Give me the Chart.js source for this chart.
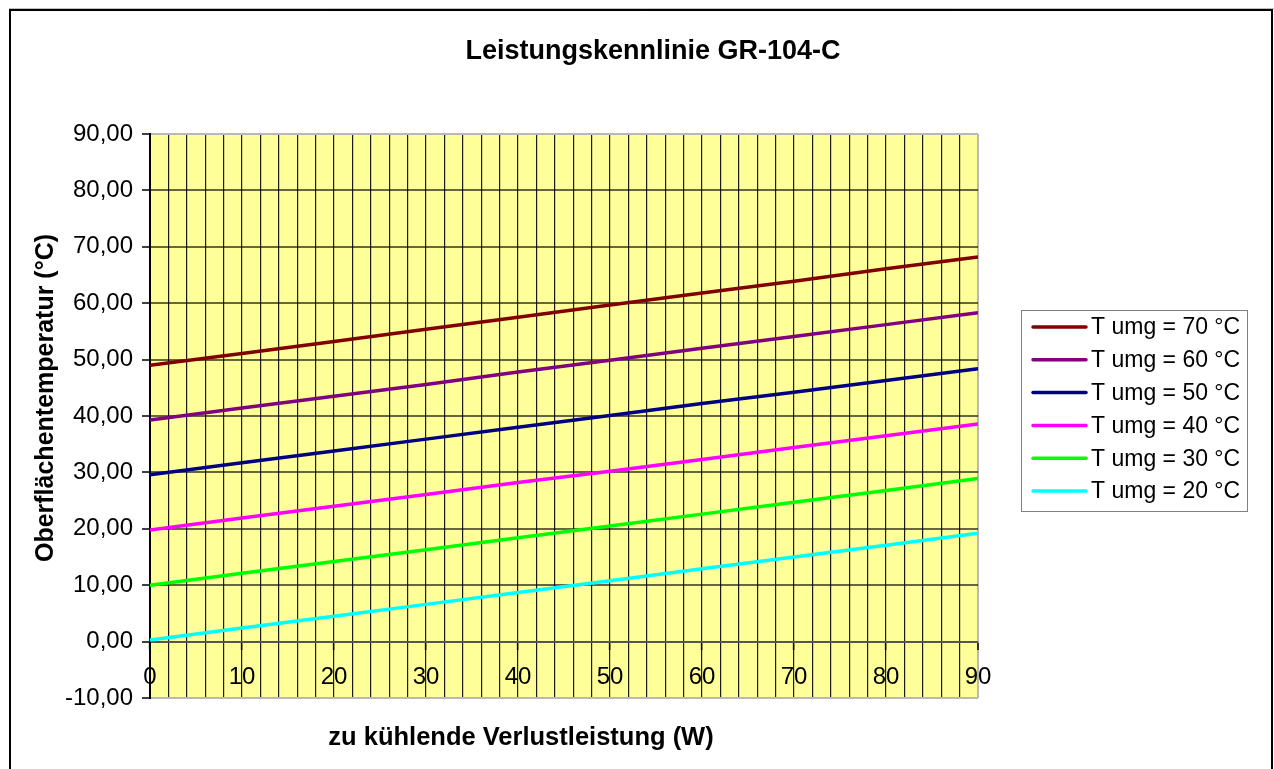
<!DOCTYPE html>
<html>
<head>
<meta charset="utf-8">
<script src="https://cdn.jsdelivr.net/npm/chart.js@4/dist/chart.umd.min.js"></script>
<style>
  html, body { margin: 0; padding: 0; background: #fff; }
  #c { display: block; }
</style>
</head>
<body>
<canvas id="c" width="1274" height="769"></canvas>
<script>
// ---- data ----
const chartTitle = 'Leistungskennlinie GR-104-C';
const xAxisTitle = 'zu kühlende Verlustleistung (W)';
const yAxisTitle = 'Oberflächentemperatur (°C)';
const xValues = [0, 10, 20, 30, 40, 50, 60, 70, 80, 90];
const seriesLabels = ['T umg = 70 °C', 'T umg = 60 °C', 'T umg = 50 °C', 'T umg = 40 °C', 'T umg = 30 °C', 'T umg = 20 °C'];
const t70 = [49.0, 51.1, 53.2, 55.4, 57.5, 59.7, 61.8, 63.9, 66.1, 68.2];
const t60 = [39.3, 41.4, 43.5, 45.6, 47.8, 49.9, 52.0, 54.1, 56.2, 58.3];
const t50 = [29.6, 31.7, 33.8, 35.9, 38.0, 40.1, 42.2, 44.2, 46.3, 48.4];
const t40 = [19.8, 21.9, 24.0, 26.1, 28.2, 30.2, 32.3, 34.4, 36.5, 38.6];
const t30 = [10.0, 12.1, 14.2, 16.3, 18.4, 20.5, 22.6, 24.7, 26.8, 28.9];
const t20 = [0.3, 2.4, 4.5, 6.6, 8.7, 10.8, 12.9, 15.0, 17.1, 19.2];
const seriesColors = ['#800000', '#800080', '#000080', '#FF00FF', '#00FF00', '#00FFFF'];
const yMin = -10, yMax = 90, yStep = 10;
const xMin = 0, xMax = 90, xGridStep = 2, xLabelStep = 10;

const allSeries = [t70, t60, t50, t40, t30, t20];

const datasets = allSeries.map((s, i) => ({
  label: seriesLabels[i],
  data: xValues.map((x, j) => ({ x: x, y: s[j] })),
  borderColor: seriesColors[i],
  backgroundColor: seriesColors[i],
  borderWidth: 3.5,
  pointRadius: 0,
  tension: 0,
  fill: false
}));

const FONT = 'Arial, "Liberation Sans", sans-serif';

const decorPlugin = {
  id: 'decor',
  beforeDraw(chart) {
    const ctx = chart.ctx;
    const a = chart.chartArea;
    ctx.save();
    ctx.fillStyle = '#ffffff';
    ctx.fillRect(0, 0, chart.width, chart.height);
    ctx.fillStyle = '#FFFF99';
    ctx.fillRect(a.left, a.top, a.right - a.left, a.bottom - a.top);
    ctx.restore();
  },
  afterDraw(chart) {
    const ctx = chart.ctx;
    ctx.save();
    // outer frame
    ctx.strokeStyle = '#c0c0c0';
    ctx.lineWidth = 1;
    ctx.beginPath();
    ctx.moveTo(9, 8.5); ctx.lineTo(1274, 8.5);
    ctx.stroke();
    ctx.strokeStyle = '#000';
    ctx.lineWidth = 2;
    ctx.beginPath();
    ctx.moveTo(10, 800); ctx.lineTo(10, 10); ctx.lineTo(1272, 10); ctx.lineTo(1272, 800);
    ctx.stroke();

    // titles
    ctx.fillStyle = '#000';
    ctx.textAlign = 'center';
    ctx.textBaseline = 'middle';
    ctx.font = 'bold 27px ' + FONT;
    ctx.fillText(chartTitle, 653, 52);
    ctx.font = 'bold 25.5px ' + FONT;
    ctx.fillText(xAxisTitle, 521, 738);
    ctx.font = 'bold 25px ' + FONT;
    ctx.save();
    ctx.translate(46, 398);
    ctx.rotate(-Math.PI / 2);
    ctx.fillText(yAxisTitle, 0, 0);
    ctx.restore();

    // legend
    const lx = 1021, ly = 310, lw = 226, lh = 201;
    ctx.strokeStyle = '#808080';
    ctx.lineWidth = 1;
    ctx.strokeRect(lx + 0.5, ly + 0.5, lw, lh);
    ctx.font = '23px ' + FONT;
    ctx.textAlign = 'left';
    ctx.textBaseline = 'middle';
    chart.data.datasets.forEach((ds, i) => {
      const y = 327 + i * 32.8;
      ctx.strokeStyle = ds.borderColor;
      ctx.lineWidth = 3.5;
      ctx.lineCap = 'round';
      ctx.beginPath();
      ctx.moveTo(1033, y); ctx.lineTo(1086, y);
      ctx.stroke();
      ctx.fillStyle = '#000';
      ctx.fillText(ds.label, 1091, y + 1);
    });
    ctx.restore();
  }
};

new Chart(document.getElementById('c'), {
  type: 'line',
  data: { datasets: datasets },
  options: {
    responsive: false,
    animation: false,
    events: [],
    layout: { padding: { left: 0, top: 134, right: 296, bottom: 71 } },
    plugins: { legend: { display: false }, title: { display: false }, tooltip: { enabled: false } },
    scales: {
      x: {
        type: 'linear',
        position: { y: 0 },
        min: xMin, max: xMax,
        afterFit(scale) { scale.height = 0; },
        afterBuildTicks(scale) {
          const t = [];
          for (let v = xMin; v <= xMax; v += xGridStep) t.push({ value: v });
          scale.ticks = t;
        },
        ticks: {
          autoSkip: false,
          maxRotation: 0,
          padding: 14,
          color: '#000',
          font: { family: FONT, size: 24 },
          callback: (v) => (v % xLabelStep === 0 ? String(v) : '')
        },
        grid: {
          color: (c) => (c.tick && c.tick.value === xMax ? '#b8b8b8' : '#1a1a1a'),
          lineWidth: (c) => (c.tick && c.tick.value === xMax ? 2 : 1.2),
          tickLength: 7,
          tickColor: (c) => (c.tick && c.tick.value % xLabelStep === 0 ? '#000' : 'rgba(0,0,0,0)'),
          tickWidth: 1.5
        },
        border: { display: true, color: '#555', width: 2 }
      },
      y: {
        type: 'linear',
        min: yMin, max: yMax,
        afterFit(scale) { scale.width = 150; },
        ticks: {
          stepSize: yStep,
          padding: 9,
          color: '#000',
          font: { family: FONT, size: 24 },
          callback: (v) => v.toFixed(2).replace('.', ',')
        },
        grid: {
          color: (c) => (c.tick && (c.tick.value === yMax || c.tick.value === yMin) ? '#b8b8b8' : 'rgba(0,0,0,0.6)'),
          lineWidth: 2,
          tickLength: 8,
          tickColor: '#000',
          tickWidth: 1.5
        },
        border: { display: true, color: '#000', width: 2 }
      }
    }
  },
  plugins: [decorPlugin]
});
</script>
</body>
</html>
